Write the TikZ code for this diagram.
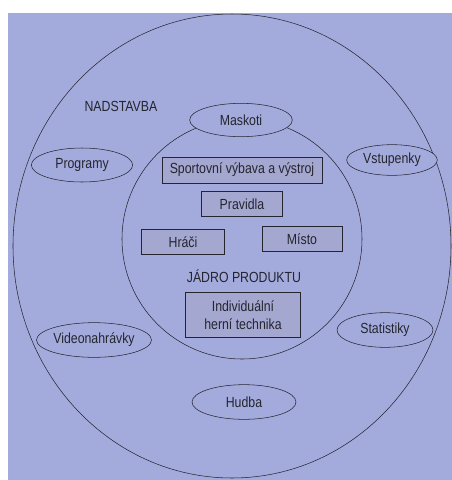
\documentclass[tikz,border=0pt]{standalone}
\usepackage{fontspec}
\setmainfont[FakeStretch=0.84]{Liberation Sans}
\usetikzlibrary{shapes.geometric}

\definecolor{paper}{HTML}{A3ABDC}
\definecolor{boxfill}{HTML}{A4A7D0}
\definecolor{ink}{HTML}{25252F}

\begin{document}
\begin{tikzpicture}[x=0.75pt,y=-0.75pt,
		every node/.style={text=ink,font=\fontsize{11}{13}\selectfont},
		oval/.style={draw=ink,ellipse,fill=paper,inner sep=0pt},
		item/.style={draw=ink,fill=boxfill,inner sep=0pt,minimum height=18.75pt}]
				% Page
				\useasboundingbox (0,0) rectangle (452,480);
				\fill[white] (0,0) rectangle (452,480);
				\fill[paper] (8,13) rectangle (452,480);
				
				% Circles
				\coordinate (outer) at (232,246);
				\coordinate (inner) at (242,239);
				\draw[ink] (outer) ellipse [x radius=219, y radius=232];
				\draw[ink] (inner) circle (120);
				
				% Outer ring
				\node (nadstavba) at (121,106) {NADSTAVBA};
				\node[oval,minimum width=77pt,minimum height=25pt] (maskoti) at (241,120) {Maskoti};
				\node[oval,minimum width=76pt,minimum height=25.5pt] (programy) at (82,165) {Programy};
				\node[oval,minimum width=68pt,minimum height=23pt] (vstupenky) at (392,160) {Vstupenky};
				\node[oval,minimum width=79pt,minimum height=26pt] (video) at (94,340) {Videonahrávky};
				\node[oval,minimum width=72pt,minimum height=26pt] (statistiky) at (385,330) {Statistiky};
				\node[oval,minimum width=78pt,minimum height=26pt] (hudba) at (244,402) {Hudba};
				
				% Core
				\node[item,minimum width=120pt,minimum height=19.5pt] (vybava) at (242,170) {Sportovní výbava a výstroj};
				\node[item,minimum width=61pt] (pravidla) at (242,204) {Pravidla};
				\node[item,minimum width=62pt] (hraci) at (183,242) {Hráči};
				\node[item,minimum width=60pt] (misto) at (302,239) {Místo};
				\node (jadro) at (244,276) {JÁDRO PRODUKTU};
				\node[item,minimum width=86pt,minimum height=34pt,align=center] (technika) at (243,315) {Individuální\\herní technika};
			\end{tikzpicture}
\end{document}
